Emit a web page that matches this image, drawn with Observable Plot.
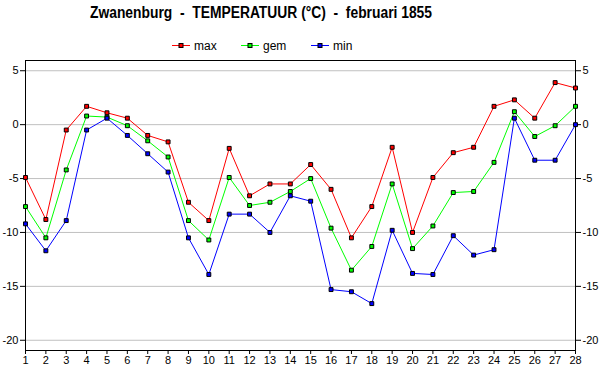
<!DOCTYPE html>
<html><head><meta charset="utf-8">
<script src="https://cdn.jsdelivr.net/npm/d3@7"></script>
<script src="https://cdn.jsdelivr.net/npm/@observablehq/plot@0.6"></script>
<style>
body{margin:0;background:#fff;font-family:"Liberation Sans",Arial,sans-serif;}
#wrap{position:relative;width:600px;height:390px;overflow:hidden;}
#head{position:relative;width:600px;height:55px;}
#legend{position:absolute;left:0;top:0;}
#chart svg{display:block;}
</style></head>
<body>
<div id="wrap">
  <div id="head">
    <svg id="legend" width="600" height="55"></svg>
  </div>
  <div id="chart"></div>
</div>
<script>
const titleText = "Zwanenburg  -  TEMPERATUUR (°C)  -  februari 1855";
const days = d3.range(1, 29);
const seriesNames = ["max", "gem", "min"];
const seriesColors = ["#ff0000", "#00ff00", "#0000ff"];
const maxT = [-4.9, -8.8, -0.5, 1.7, 1.1, 0.6, -1.0, -1.6, -7.2, -8.9, -2.2, -6.6, -5.5, -5.5, -3.7, -6.0, -10.5, -7.6, -2.1, -10.0, -4.9, -2.6, -2.1, 1.7, 2.3, 0.6, 3.9, 3.4];
const gemT = [-7.6, -10.5, -4.2, 0.8, 0.7, -0.1, -1.5, -3.0, -8.9, -10.7, -4.9, -7.5, -7.2, -6.2, -5.0, -9.6, -13.5, -11.3, -5.5, -11.5, -9.4, -6.3, -6.2, -3.5, 1.2, -1.1, -0.1, 1.7];
const minT = [-9.2, -11.7, -8.9, -0.5, 0.6, -1.0, -2.7, -4.4, -10.5, -13.9, -8.3, -8.3, -10.0, -6.6, -7.1, -15.3, -15.5, -16.6, -9.8, -13.8, -13.9, -10.3, -12.1, -11.6, 0.6, -3.3, -3.3, 0.0];
const yTicks = [-20, -15, -10, -5, 0, 5];

const allValues = [maxT, gemT, minT];
const data = seriesNames.flatMap((name, k) => allValues[k].map((v, i) => ({day: days[i], t: v, name})));

// title + legend
const leg = d3.select("#legend");
leg.append("text").attr("x", 90).attr("y", 18).attr("font-size", 16).attr("font-weight", "bold")
  .attr("font-family", "Liberation Sans, Arial, sans-serif")
  .attr("textLength", 342).attr("lengthAdjust", "spacingAndGlyphs")
  .style("white-space", "pre").attr("xml:space", "preserve").text(titleText);
const legX = [172, 241, 311];
seriesNames.forEach((name, k) => {
  const x0 = legX[k];
  leg.append("line").attr("x1", x0).attr("x2", x0 + 18).attr("y1", 45.5).attr("y2", 45.5)
    .attr("stroke", seriesColors[k]).attr("stroke-width", 1);
  leg.append("rect").attr("x", x0 + 7).attr("y", 43.5).attr("width", 4).attr("height", 4)
    .attr("fill", seriesColors[k]).attr("stroke", "#000").attr("stroke-width", 1);
  leg.append("text").attr("x", x0 + 22).attr("y", 49.5).attr("font-size", 12)
    .attr("font-family", "Liberation Sans, Arial, sans-serif").text(name);
});

const fmt = d => String(d);
const chart = Plot.plot({
  width: 600,
  height: 335,
  marginTop: 5,
  marginBottom: 40,
  marginLeft: 25,
  marginRight: 25,
  style: {fontFamily: "Liberation Sans, Arial, sans-serif", fontSize: "11px", background: "#fff"},
  x: {domain: [1, 28], label: null},
  y: {domain: [-20.95, 5.95], label: null},
  color: {domain: seriesNames, range: seriesColors},
  marks: [
    Plot.gridY(yTicks, {stroke: "#c0c0c0", strokeOpacity: 1, strokeWidth: 1}),
    Plot.axisY(yTicks, {anchor: "left", tickFormat: fmt, tickSize: 5, tickPadding: 2, stroke: "#000", fontSize: 11, label: null}),
    Plot.axisY(yTicks, {anchor: "right", tickFormat: fmt, tickSize: 5, tickPadding: 2, stroke: "#000", fontSize: 11, label: null}),
    Plot.axisX(days, {anchor: "bottom", tickFormat: fmt, tickSize: 4, tickPadding: 2, stroke: "#000", fontSize: 11, label: null}),
    Plot.frame({stroke: "#000", strokeWidth: 1}),
    Plot.line(data, {x: "day", y: "t", z: "name", stroke: "name", strokeWidth: 1}),
    Plot.dot(data, {x: "day", y: "t", fill: "name", stroke: "#000", strokeWidth: 1, symbol: "square", r: 2.2})
  ]
});
document.getElementById("chart").appendChild(chart);
</script>
</body></html>
